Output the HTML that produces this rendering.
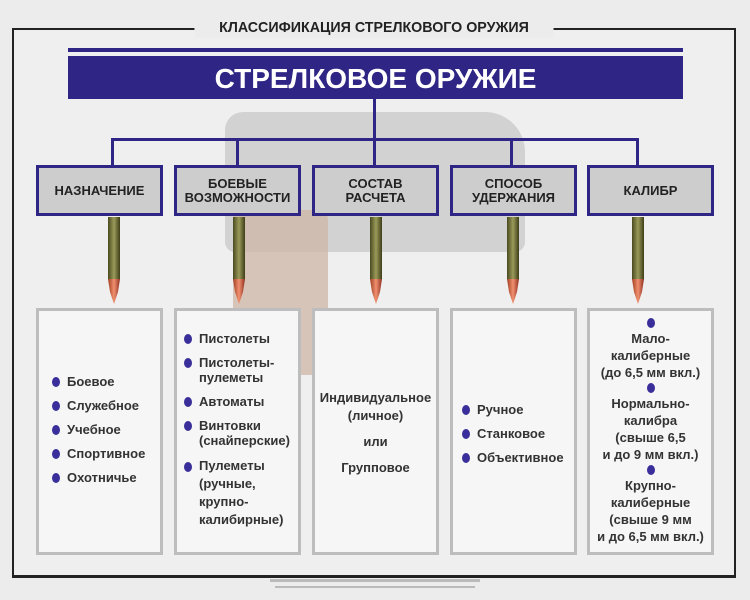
<!DOCTYPE html>
<html><head><meta charset="utf-8"><style>
body{margin:0;width:750px;height:600px;background:#ececec;position:relative;overflow:hidden;font-family:"Liberation Sans","DejaVu Sans",sans-serif;}
.a{position:absolute;box-sizing:border-box;}
.hb{background:#cdcdcd;border:3px solid #2e2585;display:flex;align-items:center;justify-content:center;text-align:center;font-weight:bold;font-size:13px;line-height:14px;color:#222;}
.lb{background:#f6f6f6;border:3px solid #bdbdbd;font-weight:bold;font-size:13px;color:#333;}
.li{display:flex;align-items:flex-start;margin-bottom:9px;line-height:15px}
.d{width:8px;height:10px;border-radius:50%;background:#3a2f9a;margin:3px 7px 0 0;flex:none}
.c{text-align:center;line-height:17px}
.cd{width:8px;height:10px;border-radius:50%;background:#3a2f9a;margin:2px auto 2px}
</style></head><body>
<div class="a" style="left:12px;top:28px;width:724px;height:550px;border:2px solid #222;border-bottom-width:3px;background:#efefef"></div>
<div class="a" style="left:185px;top:18px;width:378px;height:20px;background:#ececec;text-align:center;font-weight:bold;font-size:15px;color:#222;line-height:20px;transform:scaleX(0.95)">КЛАССИФИКАЦИЯ СТРЕЛКОВОГО ОРУЖИЯ</div>
<!-- ghost pistol -->
<div class="a" style="left:225px;top:112px;width:300px;height:140px;background:#c8c8c8;border-radius:18px 40px 10px 10px;opacity:.75"></div>
<div class="a" style="left:233px;top:210px;width:95px;height:165px;background:#cfb6a6;border-radius:10px;opacity:.75"></div>
<div class="a" style="left:68px;top:48px;width:615px;height:4px;background:#2e2585"></div>
<div class="a" style="left:68px;top:56px;width:615px;height:43px;background:#2e2585;color:#fff;font-weight:bold;font-size:28px;text-align:center;line-height:45px">СТРЕЛКОВОЕ ОРУЖИЕ</div>
<div class="a" style="left:373px;top:99px;width:3px;height:67px;background:#2e2585"></div>
<div class="a" style="left:111px;top:138px;width:528px;height:3px;background:#2e2585"></div>
<div class="a" style="left:111px;top:138px;width:3px;height:28px;background:#2e2585"></div>
<div class="a" style="left:236px;top:138px;width:3px;height:28px;background:#2e2585"></div>
<div class="a" style="left:510px;top:138px;width:3px;height:28px;background:#2e2585"></div>
<div class="a" style="left:636px;top:138px;width:3px;height:28px;background:#2e2585"></div>
<div class="a hb" style="left:36px;top:165px;width:127px;height:51px">НАЗНАЧЕНИЕ</div>
<div class="a hb" style="left:174px;top:165px;width:127px;height:51px">БОЕВЫЕ<br>ВОЗМОЖНОСТИ</div>
<div class="a hb" style="left:312px;top:165px;width:127px;height:51px">СОСТАВ<br>РАСЧЕТА</div>
<div class="a hb" style="left:450px;top:165px;width:127px;height:51px">СПОСОБ<br>УДЕРЖАНИЯ</div>
<div class="a hb" style="left:587px;top:165px;width:127px;height:51px">КАЛИБР</div>
<svg class="a" style="left:0;top:0" width="750" height="600">
<defs><linearGradient id="g" x1="0" x2="1"><stop offset="0" stop-color="#4a4a20"/><stop offset=".5" stop-color="#9a9a5a"/><stop offset="1" stop-color="#3d3d18"/></linearGradient>
<linearGradient id="t" x1="0" x2="1"><stop offset="0" stop-color="#a04020"/><stop offset=".5" stop-color="#f09070"/><stop offset="1" stop-color="#903020"/></linearGradient></defs>
<g id="cart"><rect x="108" y="217" width="12" height="62" fill="url(#g)"/><path d="M108 279 L120 279 L118 292 L114 304 L110 292 Z" fill="url(#t)"/></g>
<use href="#cart" x="125"/><use href="#cart" x="262"/><use href="#cart" x="399"/><use href="#cart" x="524"/>
</svg>
<div class="a lb" style="left:36px;top:308px;width:127px;height:247px;padding:63px 0 0 13px">
<div class="li"><span class="d"></span>Боевое</div><div class="li"><span class="d"></span>Служебное</div><div class="li"><span class="d"></span>Учебное</div><div class="li"><span class="d"></span>Спортивное</div><div class="li"><span class="d"></span>Охотничье</div></div>
<div class="a lb" style="left:174px;top:308px;width:127px;height:247px;padding:20px 0 0 7px">
<div class="li"><span class="d"></span>Пистолеты</div><div class="li"><span class="d"></span>Пистолеты-<br>пулеметы</div><div class="li"><span class="d"></span>Автоматы</div><div class="li"><span class="d"></span>Винтовки<br>(снайперские)</div><div class="li" style="line-height:18px"><span class="d" style="margin-top:5px"></span>Пулеметы<br>(ручные,<br>крупно-<br>калибирные)</div></div>
<div class="a lb" style="left:312px;top:308px;width:127px;height:247px;padding-top:78px;text-align:center;font-size:13px">
<div style="line-height:18px">Индивидуальное<br>(личное)</div><div style="line-height:26px;margin-top:4px">или<br>Групповое</div></div>
<div class="a lb" style="left:450px;top:308px;width:127px;height:247px;padding:91px 0 0 9px">
<div class="li"><span class="d"></span>Ручное</div><div class="li"><span class="d"></span>Станковое</div><div class="li"><span class="d"></span>Объективное</div></div>
<div class="a lb c" style="left:587px;top:308px;width:127px;height:247px;padding-top:5px">
<div class="cd"></div>Мало-<br>калиберные<br>(до 6,5 мм вкл.)<div class="cd"></div>Нормально-<br>калибра<br>(свыше 6,5<br>и до 9 мм вкл.)<div class="cd"></div>Крупно-<br>калиберные<br>(свыше 9 мм<br>и до 6,5 мм вкл.)</div>
<div class="a" style="left:270px;top:579px;width:210px;height:3px;background:#999;opacity:.6"></div>
<div class="a" style="left:275px;top:586px;width:200px;height:2px;background:#999;opacity:.6"></div>
</body></html>
